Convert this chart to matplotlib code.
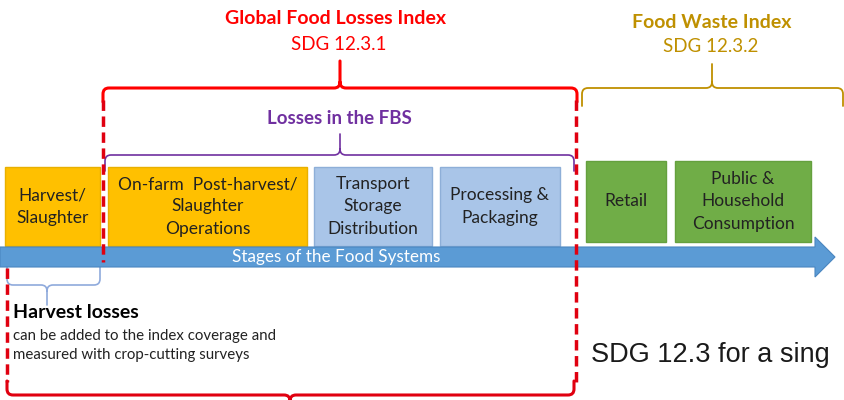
import matplotlib.pyplot as plt
from matplotlib.path import Path
from matplotlib.patches import PathPatch, Rectangle, FancyArrow

# stage boxes: label, left, right, top, bottom, fill, edge
stage_labels = ["Harvest/\nSlaughter", "On-farm  Post-harvest/\nSlaughter\nOperations",
                "Transport\nStorage\nDistribution", "Processing &\nPackaging",
                "Retail", "Public &\nHousehold\nConsumption"]
stage_left = [5, 108, 314, 440, 586, 675]
stage_right = [100, 307, 432, 560, 666, 811]
stage_top = [167, 167, 167, 167, 161, 161]
stage_bottom = [246, 246, 246, 246, 242, 242]
stage_fill = ["#FFC000", "#FFC000", "#A9C5E8", "#A9C5E8", "#70AD47", "#70AD47"]
stage_edge = ["#E8B000", "#E8B000", "#8EAFD8", "#8EAFD8", "#65A03E", "#65A03E"]

FONT = "Lato"

fig = plt.figure(figsize=(8.45, 4.0), dpi=100)
ax = fig.add_axes([0, 0, 1, 1])
ax.set_xlim(0, 845)
ax.set_ylim(400, 0)
ax.axis("off")


def brace(x0, x1, xc, y, tip, leg, color, lw, r=6, ls="-"):
    # curly bracket; tip < y means tip points up, legs go to y+leg
    s = 1 if tip < y else -1
    verts = [(x0, y + s * leg), (x0, y + s * r), (x0, y), (x0 + r, y),
             (xc - r, y), (xc, y), (xc, y - s * r), (xc, tip),
             (xc, y - s * r), (xc, y), (xc + r, y),
             (x1 - r, y), (x1, y), (x1, y + s * r), (x1, y + s * leg)]
    codes = [Path.MOVETO, Path.LINETO, Path.CURVE3, Path.CURVE3,
             Path.LINETO, Path.CURVE3, Path.CURVE3, Path.LINETO,
             Path.MOVETO, Path.CURVE3, Path.CURVE3,
             Path.LINETO, Path.CURVE3, Path.CURVE3, Path.LINETO]
    ax.add_patch(PathPatch(Path(verts, codes), fill=False, edgecolor=color,
                           lw=lw, ls=ls, capstyle="round", joinstyle="round"))


red = "#FF0000"
dred = "#E00010"
gold = "#BF9000"
purple = "#7030A0"

# titles
ax.text(336, 18, "Global Food Losses Index", color=red, fontsize=14, fontweight="bold",
        ha="center", va="center", family=FONT)
ax.text(339, 45, "SDG 12.3.1", color=red, fontsize=13.5, ha="center", va="center", family=FONT)
ax.text(712, 22, "Food Waste Index", color=gold, fontsize=14, fontweight="bold",
        ha="center", va="center", family=FONT)
ax.text(711, 47, "SDG 12.3.2", color=gold, fontsize=13.5, ha="center", va="center", family=FONT)
ax.text(339, 118, "Losses in the FBS", color=purple, fontsize=13.5, fontweight="bold",
        ha="center", va="center", family=FONT)

# brackets
brace(103, 577, 340, 88, 61, 14, red, 2.2)
brace(582, 843, 712, 88, 64, 18, gold, 1.3)
brace(105, 574, 340, 155, 134, 16, purple, 1.2)
brace(7, 574, 290, 395, 410, 14, dred, 2.2)
brace(7, 100, 47, 285, 305, 18, "#8FAADC", 1.2)

# dashed sides of the losses index
ax.plot([103, 103], [100, 262], color=dred, lw=2.5, ls=(0, (3, 1.6)))
ax.plot([576, 576], [100, 382], color=dred, lw=2.5, ls=(0, (3, 1.6)))
ax.plot([7, 7], [268, 382], color=dred, lw=2.5, ls=(0, (3, 1.6)))

# stage boxes
for lab, l, r, t, b, fc, ec in zip(stage_labels, stage_left, stage_right,
                                   stage_top, stage_bottom, stage_fill, stage_edge):
    ax.add_patch(Rectangle((l, t), r - l, b - t, facecolor=fc, edgecolor=ec, lw=1))
    ax.text((l + r) / 2, (t + b) / 2, lab, ha="center", va="center", fontsize=12.5,
            color="#222222", family=FONT, linespacing=1.5)

# arrow
ax.add_patch(FancyArrow(0, 257, 835, 0, width=20, head_width=40, head_length=20,
                        length_includes_head=True, facecolor="#5B9BD5",
                        edgecolor="#4A86C0", lw=0.8))
ax.text(336, 257, "Stages of the Food Systems", color="white", fontsize=12.3,
        ha="center", va="center", family=FONT)

# harvest losses note
ax.text(13, 313, "Harvest losses", fontsize=14, fontweight="bold", color="black",
        ha="left", va="center", family=FONT)
ax.text(13, 336, "can be added to the index coverage and", fontsize=10.8, color="#222222",
        ha="left", va="center", family=FONT)
ax.text(13, 355, "measured with crop-cutting surveys", fontsize=10.8, color="#222222",
        ha="left", va="center", family=FONT)

ax.text(591, 355, "SDG 12.3 for a sing", fontsize=19.5, color="#1a1a1a",
        ha="left", va="center", family="Liberation Sans")

fig.savefig("out.png", dpi=100)
